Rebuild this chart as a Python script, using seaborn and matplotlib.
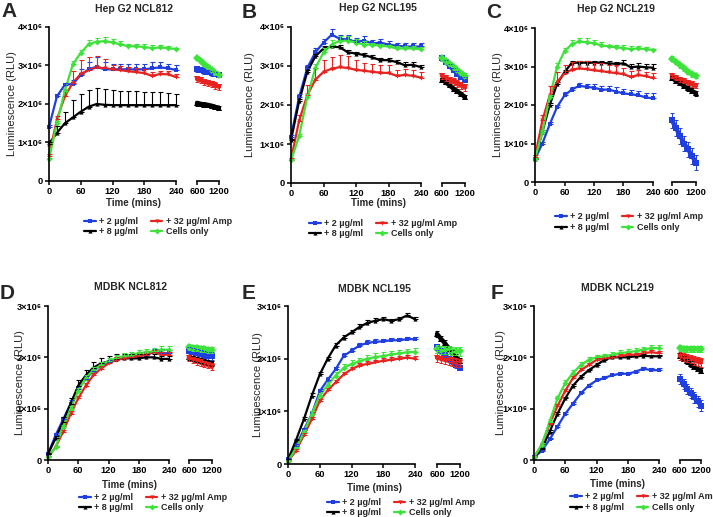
import numpy as np
import pandas as pd
import matplotlib
matplotlib.use('Agg')
import matplotlib.pyplot as plt
import seaborn as sns
from matplotlib.lines import Line2D

# time points (mins)
TIME = [0, 15, 30, 45, 60, 75, 90, 105, 120, 135, 150, 165, 180, 195, 210, 225, 240]
LATE_TIME = [600, 700, 800, 900, 1000, 1100, 1200]

SERIES = ['+ 2 µg/ml', '+ 8 µg/ml', '+ 32 µg/ml Amp', 'Cells only']
COLORS = ['#1f3fe0', '#000000', '#e8231f', '#3de33a']
MARKERS = ['s', '^', 'v', 'D']

# luminescence values in units of 10^6 RLU
# --- A: Hep G2 NCL812
A_blue = [1.40, 2.20, 2.50, 2.52, 2.75, 2.90, 2.97, 2.90, 2.90, 2.90, 2.90, 2.90, 2.90, 2.93, 2.95, 2.93, 2.88]
A_black = [0.97, 1.25, 1.50, 1.65, 1.80, 1.93, 2.00, 1.98, 1.97, 1.97, 1.97, 1.97, 1.97, 1.97, 1.97, 1.97, 1.97]
A_red = [0.65, 1.60, 2.20, 2.55, 2.78, 2.88, 2.95, 2.93, 2.90, 2.88, 2.85, 2.83, 2.80, 2.73, 2.78, 2.77, 2.70]
A_green = [0.57, 1.50, 2.35, 3.03, 3.33, 3.55, 3.62, 3.63, 3.60, 3.55, 3.50, 3.50, 3.48, 3.45, 3.47, 3.45, 3.43]
A_blue_err = [0.05, 0.05, 0.05, 0.10, 0.15, 0.20, 0.25, 0.20, 0.15, 0.15, 0.15, 0.15, 0.15, 0.15, 0.15, 0.12, 0.12]
A_black_err = [0.05, 0.17, 0.30, 0.45, 0.45, 0.44, 0.42, 0.40, 0.40, 0.38, 0.37, 0.36, 0.35, 0.34, 0.33, 0.32, 0.30]
A_red_err = [0.05, 0.10, 0.20, 0.30, 0.35, 0.33, 0.30, 0.25, 0.10, 0.10, 0.10, 0.10, 0.10, 0.10, 0.08, 0.08, 0.08]
A_green_err = [0.03, 0.05, 0.05, 0.08, 0.08, 0.10, 0.10, 0.12, 0.10, 0.08, 0.05, 0.05, 0.08, 0.08, 0.05, 0.05, 0.03]
A_blue_late = [2.90, 2.88, 2.85, 2.83, 2.80, 2.78, 2.75]
A_black_late = [2.02, 2.00, 1.98, 1.97, 1.95, 1.92, 1.90]
A_red_late = [2.65, 2.62, 2.58, 2.55, 2.52, 2.48, 2.45]
A_green_late = [3.20, 3.12, 3.03, 2.95, 2.88, 2.80, 2.75]
A_late_err = [0.06, 0.06, 0.08, 0.05]

# --- B: Hep G2 NCL195
B_blue = [1.19, 2.20, 2.95, 3.35, 3.60, 3.80, 3.70, 3.68, 3.62, 3.65, 3.58, 3.60, 3.55, 3.52, 3.50, 3.50, 3.50]
B_black = [1.10, 2.10, 2.85, 3.25, 3.45, 3.50, 3.48, 3.35, 3.32, 3.28, 3.22, 3.15, 3.15, 3.10, 3.02, 3.03, 2.97]
B_red = [0.60, 1.60, 2.25, 2.65, 2.85, 2.93, 2.97, 2.95, 2.90, 2.88, 2.85, 2.83, 2.82, 2.75, 2.77, 2.75, 2.70]
B_green = [0.58, 1.20, 2.20, 2.95, 3.35, 3.55, 3.65, 3.65, 3.60, 3.55, 3.55, 3.52, 3.50, 3.45, 3.45, 3.45, 3.43]
B_blue_err = [0.05, 0.08, 0.08, 0.10, 0.10, 0.15, 0.10, 0.12, 0.10, 0.12, 0.08, 0.08, 0.08, 0.08, 0.08, 0.10, 0.10]
B_black_err = [0.03, 0.05, 0.05, 0.05, 0.05, 0.05, 0.05, 0.05, 0.05, 0.05, 0.05, 0.05, 0.06, 0.06, 0.07, 0.07, 0.05]
B_red_err = [0.05, 0.15, 0.25, 0.30, 0.30, 0.30, 0.30, 0.30, 0.25, 0.20, 0.20, 0.20, 0.20, 0.15, 0.15, 0.15, 0.15]
B_green_err = [0.03, 0.05, 0.08, 0.10, 0.10, 0.12, 0.12, 0.12, 0.10, 0.08, 0.05, 0.05, 0.05, 0.05, 0.05, 0.05, 0.05]
B_blue_late = [3.20, 3.10, 3.00, 2.90, 2.80, 2.72, 2.65]
B_black_late = [2.65, 2.58, 2.50, 2.42, 2.35, 2.28, 2.20]
B_red_late = [2.75, 2.70, 2.65, 2.60, 2.55, 2.50, 2.45]
B_green_late = [3.20, 3.12, 3.05, 2.97, 2.90, 2.82, 2.75]
B_late_err = [0.06, 0.05, 0.08, 0.06]

# --- C: Hep G2 NCL219
C_blue = [0.60, 1.00, 1.50, 1.95, 2.25, 2.40, 2.50, 2.47, 2.45, 2.40, 2.40, 2.35, 2.30, 2.28, 2.25, 2.20, 2.17]
C_black = [0.60, 1.30, 2.00, 2.55, 2.85, 3.10, 3.10, 3.10, 3.10, 3.10, 3.08, 3.07, 3.08, 2.98, 3.00, 2.98, 2.97]
C_red = [0.65, 1.60, 2.25, 2.60, 2.82, 2.92, 2.95, 2.93, 2.90, 2.88, 2.85, 2.83, 2.80, 2.73, 2.78, 2.75, 2.70]
C_green = [0.60, 1.30, 2.20, 3.00, 3.40, 3.58, 3.65, 3.63, 3.60, 3.55, 3.52, 3.50, 3.48, 3.45, 3.47, 3.45, 3.43]
C_blue_err = [0.03, 0.05, 0.05, 0.05, 0.08, 0.08, 0.08, 0.08, 0.10, 0.10, 0.10, 0.12, 0.12, 0.12, 0.12, 0.12, 0.15]
C_black_err = [0.03, 0.05, 0.05, 0.05, 0.05, 0.05, 0.05, 0.05, 0.05, 0.05, 0.05, 0.05, 0.08, 0.08, 0.08, 0.08, 0.10]
C_red_err = [0.05, 0.15, 0.25, 0.25, 0.22, 0.20, 0.20, 0.20, 0.20, 0.20, 0.20, 0.20, 0.15, 0.15, 0.12, 0.12, 0.12]
C_green_err = [0.03, 0.05, 0.05, 0.08, 0.08, 0.10, 0.10, 0.12, 0.10, 0.08, 0.05, 0.05, 0.08, 0.08, 0.05, 0.05, 0.03]
C_blue_late = [1.60, 1.40, 1.20, 1.00, 0.85, 0.68, 0.50]
C_black_late = [2.70, 2.63, 2.57, 2.50, 2.43, 2.37, 2.30]
C_red_late = [2.75, 2.70, 2.66, 2.62, 2.58, 2.54, 2.50]
C_green_late = [3.20, 3.12, 3.03, 2.95, 2.87, 2.80, 2.75]
C_late_err = [0.20, 0.06, 0.06, 0.06]

# --- D: MDBK NCL812
D_blue = [0.12, 0.48, 0.79, 1.10, 1.39, 1.58, 1.74, 1.84, 1.90, 1.95, 1.98, 2.00, 2.03, 2.05, 2.10, 2.08, 2.08]
D_black = [0.12, 0.42, 0.75, 1.10, 1.45, 1.65, 1.80, 1.88, 1.92, 1.96, 1.98, 1.98, 1.98, 2.00, 2.00, 1.97, 1.97]
D_red = [0.05, 0.25, 0.55, 0.90, 1.20, 1.45, 1.65, 1.78, 1.88, 1.95, 1.98, 2.00, 2.03, 2.05, 2.10, 2.05, 2.05]
D_green = [0.05, 0.25, 0.65, 1.00, 1.35, 1.60, 1.75, 1.85, 1.93, 1.98, 2.02, 2.05, 2.08, 2.10, 2.12, 2.15, 2.15]
D_blue_err = [0.02, 0.04, 0.05, 0.06, 0.06, 0.06, 0.06, 0.06, 0.05, 0.05, 0.05, 0.05, 0.05, 0.06, 0.06, 0.06, 0.06]
D_black_err = [0.02, 0.05, 0.08, 0.10, 0.10, 0.10, 0.10, 0.10, 0.10, 0.10, 0.08, 0.08, 0.08, 0.06, 0.06, 0.06, 0.06]
D_red_err = [0.02, 0.03, 0.04, 0.05, 0.05, 0.05, 0.05, 0.05, 0.05, 0.05, 0.05, 0.05, 0.05, 0.05, 0.05, 0.05, 0.05]
D_green_err = [0.02, 0.03, 0.04, 0.05, 0.05, 0.05, 0.06, 0.06, 0.06, 0.06, 0.06, 0.06, 0.07, 0.07, 0.07, 0.07, 0.07]
D_blue_late = [2.12, 2.10, 2.08, 2.07, 2.05, 2.03, 2.02]
D_black_late = [2.00, 1.98, 1.96, 1.94, 1.92, 1.90, 1.88]
D_red_late = [1.98, 1.95, 1.92, 1.90, 1.87, 1.85, 1.82]
D_green_late = [2.20, 2.19, 2.18, 2.17, 2.16, 2.15, 2.15]
D_late_err = [0.08, 0.05, 0.06, 0.06]

# --- E: MDBK NCL195
E_blue = [0.10, 0.35, 0.65, 0.95, 1.38, 1.60, 1.80, 2.05, 2.15, 2.25, 2.30, 2.32, 2.33, 2.35, 2.35, 2.37, 2.37]
E_black = [0.08, 0.45, 0.85, 1.30, 1.70, 2.00, 2.25, 2.40, 2.50, 2.60, 2.68, 2.72, 2.75, 2.72, 2.75, 2.82, 2.75]
E_red = [0.05, 0.25, 0.55, 0.85, 1.20, 1.40, 1.55, 1.70, 1.80, 1.87, 1.90, 1.93, 1.96, 1.98, 2.00, 2.02, 2.00]
E_green = [0.05, 0.30, 0.60, 0.95, 1.30, 1.50, 1.68, 1.82, 1.90, 1.95, 2.00, 2.03, 2.05, 2.08, 2.10, 2.12, 2.13]
E_blue_err = [0.02, 0.03, 0.04, 0.05, 0.05, 0.05, 0.05, 0.06, 0.05, 0.05, 0.05, 0.05, 0.05, 0.05, 0.05, 0.04, 0.04]
E_black_err = [0.02, 0.03, 0.04, 0.04, 0.04, 0.04, 0.04, 0.04, 0.04, 0.05, 0.06, 0.05, 0.04, 0.04, 0.04, 0.05, 0.04]
E_red_err = [0.02, 0.03, 0.03, 0.04, 0.04, 0.04, 0.04, 0.05, 0.05, 0.05, 0.05, 0.05, 0.05, 0.05, 0.05, 0.05, 0.05]
E_green_err = [0.02, 0.03, 0.04, 0.05, 0.05, 0.06, 0.06, 0.07, 0.07, 0.07, 0.07, 0.07, 0.07, 0.07, 0.07, 0.07, 0.07]
E_blue_late = [2.22, 2.15, 2.08, 2.00, 1.95, 1.88, 1.83]
E_black_late = [2.47, 2.38, 2.30, 2.20, 2.12, 2.03, 1.96]
E_red_late = [2.02, 2.00, 1.98, 1.96, 1.95, 1.93, 1.92]
E_green_late = [2.18, 2.17, 2.16, 2.16, 2.15, 2.15, 2.14]
E_late_err = [0.05, 0.05, 0.08, 0.08]

# --- F: MDBK NCL219
F_blue = [0.05, 0.18, 0.40, 0.65, 0.90, 1.10, 1.30, 1.45, 1.55, 1.60, 1.65, 1.68, 1.68, 1.72, 1.78, 1.75, 1.75]
F_black = [0.05, 0.22, 0.55, 0.90, 1.20, 1.45, 1.62, 1.75, 1.85, 1.95, 2.00, 2.00, 2.00, 2.02, 2.03, 2.02, 2.02]
F_red = [0.05, 0.30, 0.70, 1.05, 1.35, 1.60, 1.75, 1.85, 1.95, 1.98, 2.00, 2.02, 2.05, 2.05, 2.08, 2.10, 2.08]
F_green = [0.05, 0.30, 0.75, 1.20, 1.50, 1.70, 1.85, 1.95, 2.00, 2.02, 2.05, 2.08, 2.10, 2.12, 2.15, 2.18, 2.18]
F_blue_err = [0.02, 0.02, 0.03, 0.03, 0.03, 0.03, 0.03, 0.03, 0.03, 0.03, 0.03, 0.03, 0.03, 0.04, 0.04, 0.05, 0.05]
F_black_err = [0.02, 0.02, 0.03, 0.03, 0.03, 0.03, 0.03, 0.03, 0.03, 0.03, 0.03, 0.03, 0.03, 0.03, 0.03, 0.03, 0.03]
F_red_err = [0.02, 0.03, 0.03, 0.04, 0.04, 0.04, 0.04, 0.04, 0.04, 0.04, 0.04, 0.04, 0.04, 0.04, 0.04, 0.05, 0.05]
F_green_err = [0.02, 0.03, 0.04, 0.05, 0.05, 0.05, 0.05, 0.05, 0.05, 0.05, 0.06, 0.06, 0.06, 0.06, 0.06, 0.06, 0.06]
F_blue_late = [1.58, 1.48, 1.38, 1.30, 1.22, 1.14, 1.06]
F_black_late = [2.03, 1.97, 1.92, 1.87, 1.82, 1.78, 1.74]
F_red_late = [2.03, 2.00, 1.98, 1.96, 1.94, 1.92, 1.90]
F_green_late = [2.18, 2.17, 2.17, 2.16, 2.16, 2.16, 2.16]
F_late_err = [0.10, 0.05, 0.08, 0.06]

TITLES = ['Hep G2 NCL812', 'Hep G2 NCL195', 'Hep G2 NCL219',
          'MDBK NCL812', 'MDBK NCL195', 'MDBK NCL219']
LETTERS = ['A', 'B', 'C', 'D', 'E', 'F']
YTICKLABELS = ['0', '1×10⁶', '2×10⁶', '3×10⁶', '4×10⁶']

PANELS = [
    ([A_blue, A_black, A_red, A_green], [A_blue_err, A_black_err, A_red_err, A_green_err],
     [A_blue_late, A_black_late, A_red_late, A_green_late], A_late_err),
    ([B_blue, B_black, B_red, B_green], [B_blue_err, B_black_err, B_red_err, B_green_err],
     [B_blue_late, B_black_late, B_red_late, B_green_late], B_late_err),
    ([C_blue, C_black, C_red, C_green], [C_blue_err, C_black_err, C_red_err, C_green_err],
     [C_blue_late, C_black_late, C_red_late, C_green_late], C_late_err),
    ([D_blue, D_black, D_red, D_green], [D_blue_err, D_black_err, D_red_err, D_green_err],
     [D_blue_late, D_black_late, D_red_late, D_green_late], D_late_err),
    ([E_blue, E_black, E_red, E_green], [E_blue_err, E_black_err, E_red_err, E_green_err],
     [E_blue_late, E_black_late, E_red_late, E_green_late], E_late_err),
    ([F_blue, F_black, F_red, F_green], [F_blue_err, F_black_err, F_red_err, F_green_err],
     [F_blue_late, F_black_late, F_red_late, F_green_late], F_late_err),
]

# layout in pixels: (left x0, left x1, right x0, right x1, y top, y bottom)
W, H = 713, 517
BOXES = [
    (49, 176, 197, 219, 27, 181),
    (291, 421, 442, 465, 27, 183),
    (535, 653, 672, 696, 28, 182),
    (48, 169, 189, 212, 306, 460),
    (288, 415, 437, 460, 306, 464),
    (534, 659, 680, 701, 306, 460),
]
YMAX = [4, 4, 4, 3, 3, 3]
TITLE_Y = [9, 8, 9, 287, 289, 288]
LETTER_XY = [(1, 2), (242, 3), (486, 3), (0, 284), (242, 284), (491, 284)]
YLABEL_X = [-0.25, -0.28, -0.27, -0.19, -0.20, -0.22]
XLABEL_Y = [203, 203, None, 485, 488, 484]
LEGEND_C = [(158, 226.5), (383, 228.5), (629, 222), (153, 502.5), (401, 507.5), (644, 502)]

sns.set_theme(style='ticks')
plt.rcParams['font.family'] = ['Liberation Sans', 'DejaVu Sans']
plt.rcParams['font.weight'] = 'bold'
plt.rcParams['axes.linewidth'] = 1.2

fig = plt.figure(figsize=(W / 100, H / 100), dpi=100)

for i, (early, early_err, late, late_err) in enumerate(PANELS):
    lx0, lx1, rx0, rx1, yt, yb = BOXES[i]
    ax = fig.add_axes([lx0 / W, 1 - yb / H, (lx1 - lx0) / W, (yb - yt) / H])
    axr = fig.add_axes([rx0 / W, 1 - yb / H, (rx1 - rx0) / W, (yb - yt) / H])

    rows = []
    for s, vals in zip(SERIES, early):
        for t, v in zip(TIME, vals):
            rows.append((t, v, s))
    df = pd.DataFrame(rows, columns=['time', 'value', 'series'])
    rows = []
    for s, vals in zip(SERIES, late):
        for t, v in zip(LATE_TIME, vals):
            rows.append((t, v, s))
    dfl = pd.DataFrame(rows, columns=['time', 'value', 'series'])

    pal = dict(zip(SERIES, COLORS))
    mk = dict(zip(SERIES, MARKERS))
    sns.lineplot(data=df, x='time', y='value', hue='series', style='series',
                 hue_order=SERIES, style_order=SERIES, palette=pal, markers=mk,
                 dashes=False, markersize=3, markeredgewidth=0, linewidth=1.6,
                 legend=False, ax=ax, clip_on=False)
    sns.lineplot(data=dfl, x='time', y='value', hue='series', style='series',
                 hue_order=SERIES, style_order=SERIES, palette=pal, markers=mk,
                 dashes=False, markersize=4, markeredgewidth=0, linewidth=3.2,
                 legend=False, ax=axr, clip_on=False)
    for c, vals, err, lv, le in zip(COLORS, early, early_err, late, late_err):
        ax.errorbar(TIME, vals, yerr=[np.zeros(len(err)), err], fmt='none',
                    ecolor=c, elinewidth=0.8, capsize=1.8, capthick=0.8, clip_on=False)
        axr.errorbar(LATE_TIME, lv, yerr=[[le] * len(lv), [le] * len(lv)], fmt='none',
                     ecolor=c, elinewidth=0.7, capsize=1.2, capthick=0.7, clip_on=False)

    for a in (ax, axr):
        a.set_ylim(0, YMAX[i])
        a.set_xlabel('')
        a.set_ylabel('')
        a.tick_params(direction='out', length=3, width=1.1, labelsize=6.7, pad=1.5,
                      color='black', labelcolor='black')
        for sp in a.spines.values():
            sp.set_color('black')
        a.patch.set_alpha(0)
    sns.despine(ax=ax)
    ax.set_xlim(0, 240)
    ax.set_xticks([0, 60, 120, 180, 240])
    ax.set_yticks(range(YMAX[i] + 1))
    ax.set_yticklabels(YTICKLABELS[:YMAX[i] + 1])
    ax.set_ylabel('Luminescence (RLU)', fontsize=8, fontweight='normal')
    ax.yaxis.set_label_coords(YLABEL_X[i], 0.5)

    axr.set_xlim(600, 1200)
    axr.set_xticks([600, 1200])
    axr.set_yticks([])
    for k in ('left', 'right', 'top'):
        axr.spines[k].set_visible(False)

    cx = (lx0 + rx1) / 2 / W
    fig.text(cx, 1 - TITLE_Y[i] / H, TITLES[i], ha='center', va='center',
             fontsize=7.5, fontweight='bold')
    lx, ly = LETTER_XY[i]
    fig.text(lx / W, 1 - ly / H, LETTERS[i], ha='left', va='top',
             fontsize=15, fontweight='bold')
    if XLABEL_Y[i] is not None:
        fig.text(cx, 1 - XLABEL_Y[i] / H, 'Time (mins)', ha='center', va='center',
                 fontsize=7, fontweight='bold')

    handles = [Line2D([], [], color=c, marker=m, markersize=3, markeredgewidth=0, lw=1.6)
               for c, m in zip(COLORS, MARKERS)]
    gx, gy = LEGEND_C[i]
    fig.legend(handles, SERIES, ncol=2, loc='center', bbox_to_anchor=(gx / W, 1 - gy / H),
               frameon=False, prop={'size': 6.5, 'weight': 'bold'}, handlelength=1.3,
               handletextpad=0.4, columnspacing=1.4, labelspacing=0.15, borderpad=0)

fig.savefig('out.png', dpi=100)
